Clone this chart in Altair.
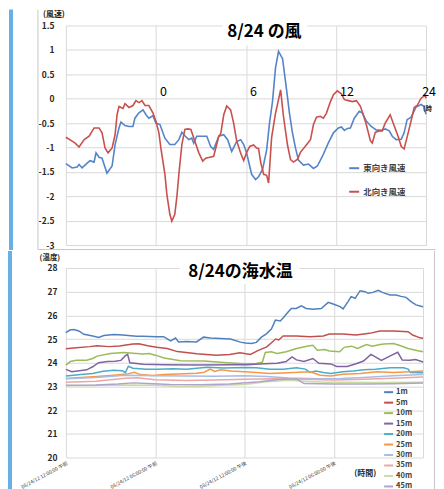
import altair as alt
import pandas as pd

FONT = "Noto Sans CJK JP"

# ---------------- wind (top panel) ----------------
WIND_TITLE = "8/24 の風"
WIND_SERIES = ["東向き風速", "北向き風速"]
WIND_COLORS = ["#5585C8", "#C9504D"]
WIND_TICKS = [-3, -2.5, -2, -1.5, -1, -0.5, 0, 0.5, 1, 1.5]
HOUR_MARKS = [0, 6, 12, 18]
HOUR_LABELS = ["0", "6", "12", "24"]

EAST_T = [-6.0, -5.58, -5.25, -5.12, -4.92, -4.58, -4.39, -4.12, -3.99, -3.79,
          -3.59, -3.26, -2.92, -2.72, -2.46, -2.33, -2.06, -1.79, -1.53, -1.40,
          -1.13, -0.86, -0.66, -0.47, -0.20, 0.0, 0.27, 0.60, 0.93, 1.26,
          1.53, 1.73, 1.93, 2.19, 2.39, 2.52, 2.72, 3.06, 3.39, 3.65,
          3.85, 4.19, 4.52, 4.78, 5.05, 5.38, 5.65, 5.85, 6.05, 6.38,
          6.64, 6.84, 7.11, 7.38, 7.57, 7.77, 7.97, 8.17, 8.44, 8.70,
          8.90, 9.10, 9.30, 9.50, 9.83, 10.17, 10.50, 10.76, 11.10, 11.50,
          11.83, 12.16, 12.36, 12.56, 12.76, 12.96, 13.22, 13.55, 13.75, 14.02,
          14.35, 14.68, 15.02, 15.28, 15.55, 15.75, 16.01, 16.35, 16.54, 16.74,
          17.01, 17.34, 17.67, 17.87, 18.0]
EAST_V = [-1.33, -1.42, -1.40, -1.35, -1.42, -1.32, -1.27, -1.30, -1.11, -1.20,
          -1.22, -1.53, -1.38, -0.94, -0.60, -0.48, -0.55, -0.57, -0.57, -0.40,
          -0.29, -0.23, -0.33, -0.40, -0.35, -0.50, -0.53, -0.81, -0.94, -0.94,
          -0.84, -0.69, -0.76, -0.84, -0.81, -0.91, -0.77, -0.77, -0.77, -0.98,
          -1.04, -0.77, -0.74, -0.84, -1.08, -0.88, -0.84, -0.94, -1.12, -1.55,
          -1.66, -1.60, -1.45, -1.05, -0.50, -0.06, 0.63, 0.97, 0.82, 0.20,
          -0.30, -0.70, -1.01, -1.26, -1.36, -1.34, -1.43, -1.38, -1.18, -0.90,
          -0.70, -0.60, -0.58, -0.65, -0.61, -0.60, -0.40, -0.26, -0.29, -0.46,
          -0.57, -0.64, -0.65, -0.62, -0.66, -0.77, -0.84, -0.83, -0.70, -0.43,
          -0.38, -0.17, -0.12, -0.16, -0.32]

NORTH_T = [-6.0, -5.58, -5.38, -5.12, -4.78, -4.45, -4.12, -3.79, -3.59, -3.39,
           -3.19, -2.92, -2.72, -2.59, -2.46, -2.19, -2.06, -1.79, -1.53, -1.33,
           -1.13, -0.93, -0.73, -0.47, -0.20, 0.0, 0.20, 0.33, 0.60, 0.73,
           0.93, 1.06, 1.26, 1.40, 1.53, 1.73, 1.93, 2.13, 2.33, 2.59,
           2.86, 3.12, 3.32, 3.59, 3.85, 4.19, 4.32, 4.52, 4.72, 4.98,
           5.18, 5.38, 5.65, 5.85, 6.05, 6.25, 6.51, 6.71, 6.84, 6.98,
           7.18, 7.38, 7.51, 7.71, 7.97, 8.17, 8.31, 8.50, 8.77, 8.97,
           9.17, 9.44, 9.63, 9.97, 10.30, 10.50, 10.70, 10.96, 11.16, 11.36,
           11.63, 11.83, 12.09, 12.36, 12.56, 12.82, 13.09, 13.36, 13.62, 13.82,
           14.02, 14.29, 14.42, 14.62, 14.88, 15.08, 15.28, 15.61, 15.81, 16.15,
           16.35, 16.54, 16.81, 17.01, 17.21, 17.41, 17.67, 17.94, 18.0]
NORTH_V = [-0.79, -0.87, -0.91, -0.99, -0.84, -0.77, -0.60, -0.60, -0.70, -1.01,
           -1.11, -1.01, -0.74, -0.33, -0.16, -0.20, -0.10, -0.18, -0.14, -0.04,
           -0.08, -0.04, -0.14, -0.14, -0.29, -0.46, -0.70, -1.01, -1.55, -1.96,
           -2.37, -2.51, -2.37, -2.00, -1.55, -0.94, -0.63, -0.62, -0.63, -0.87,
           -1.11, -1.28, -1.22, -1.20, -1.18, -0.77, -0.72, -0.33, -0.15, -0.23,
           -0.50, -0.86, -1.12, -1.27, -1.10, -0.98, -0.95, -1.01, -1.02, -1.30,
           -1.55, -1.57, -1.73, -0.80, -0.30, -0.02, 0.18, -0.36, -0.95, -1.25,
           -1.30, -1.24, -1.10, -0.97, -0.84, -0.53, -0.38, -0.36, -0.40, -0.30,
           -0.06, 0.08, 0.16, 0.10, -0.02, -0.04, -0.06, -0.04, -0.15, -0.33,
           -0.53, -0.86, -0.91, -0.69, -0.66, -0.66, -0.50, -0.33, -0.50, -0.78,
           -0.98, -1.03, -0.70, -0.45, -0.18, -0.14, 0.01, 0.07, 0.01]

# ---------------- sea temperature (bottom panel) ----------------
TEMP_TITLE = "8/24の海水温"
TEMP_TICKS = [20, 21, 22, 23, 24, 25, 26, 27, 28]
TIME_TICKS = [0, 6, 12, 18, 24]
TIME_LABELS = ["08/24/12 12:00:00 午前", "08/24/12 06:00:00 午前",
               "08/24/12 12:00:00 午後", "08/24/12 06:00:00 午後", ""]
DEPTHS = ["1m", "5m", "10m", "15m", "20m", "25m", "30m", "35m", "40m", "45m"]
DEPTH_COLORS = ["#4F81BD", "#C0504D", "#9BBB59", "#8064A2", "#4BACC6",
                "#F79646", "#A7BDE6", "#E9A8A6", "#C9DCA6", "#B0A2CC"]

T1 = [0, 0.27, 0.54, 0.87, 1.21, 1.47, 1.88, 2.21, 2.55, 3.22, 3.82, 4.36, 4.76, 5.16, 6.10,
      6.57, 7.04, 7.37, 7.57, 8.11, 8.78, 9.25, 9.72, 10.39, 11.06, 11.73, 12.06, 12.47, 12.80,
      13.14, 13.47, 13.81, 14.08, 14.41, 14.61, 14.95, 15.15, 15.48, 15.82, 16.15, 16.62, 17.16,
      17.63, 17.96, 18.43, 18.63, 18.97, 19.17, 19.44, 19.77, 20.11, 20.31, 20.64, 20.98, 21.31,
      21.78, 22.18, 22.52, 22.86, 23.19, 23.53, 23.86, 24.0]
V1 = [25.27, 25.38, 25.40, 25.34, 25.20, 25.17, 25.12, 25.07, 25.15, 25.19, 25.17, 25.14, 25.12,
      25.12, 25.10, 25.10, 24.92, 25.04, 24.88, 24.90, 24.88, 25.08, 25.04, 25.02, 25.00, 24.87,
      24.83, 24.81, 24.86, 25.08, 25.22, 25.42, 25.80, 25.76, 25.90, 26.15, 26.29, 26.29, 26.40,
      26.29, 26.26, 26.29, 26.55, 26.48, 26.37, 26.27, 26.59, 26.79, 26.72, 27.04, 27.00, 26.93,
      26.97, 27.06, 26.96, 26.86, 26.86, 26.80, 26.76, 26.58, 26.44, 26.38, 26.36]
T5 = [0, 0.7, 1.6, 2.1, 2.9, 3.6, 4.5, 4.9, 5.5, 6.1, 6.8, 7.5, 8.8, 10.1, 11.0, 11.7, 12.4, 12.9,
      13.5, 14.1, 14.3, 14.6, 15.5, 16.4, 17.3, 17.7, 18.6, 19.5, 20.4, 21.1, 22.0, 23.0, 23.3,
      23.8, 24.0]
V5 = [24.59, 24.63, 24.68, 24.72, 24.68, 24.71, 24.79, 24.80, 24.72, 24.65, 24.60, 24.47, 24.38,
      24.32, 24.35, 24.42, 24.35, 24.51, 24.67, 25.00, 24.96, 25.13, 25.13, 25.10, 25.13, 25.21,
      25.21, 25.17, 25.24, 25.34, 25.34, 25.31, 25.17, 25.05, 25.03]
T10 = [0, 0.3, 0.7, 1.4, 1.8, 2.1, 3.0, 3.9, 4.5, 5.2, 5.6, 6.0, 6.6, 7.7, 9.3, 10.6, 11.9, 12.8,
       13.2, 13.4, 13.8, 14.2, 14.8, 15.5, 16.2, 16.6, 16.9, 17.4, 17.7, 18.4, 18.7, 19.2, 19.6,
       20.2, 20.6, 21.1, 21.4, 22.0, 22.4, 23.0, 23.5, 24.0]
V10 = [23.90, 24.05, 24.10, 24.11, 24.18, 24.28, 24.39, 24.43, 24.40, 24.37, 24.39, 24.32, 24.20,
       24.08, 24.07, 24.01, 23.96, 23.97, 24.02, 24.43, 24.46, 24.39, 24.46, 24.60, 24.70, 24.74,
       24.53, 24.56, 24.50, 24.46, 24.65, 24.70, 24.60, 24.77, 24.70, 24.77, 24.79, 24.81, 24.74,
       24.60, 24.53, 24.46]
T15 = [0, 0.4, 0.9, 1.4, 1.8, 2.2, 2.8, 3.3, 3.7, 4.0, 4.15, 4.3, 5.2, 6.6, 8.8, 11.1, 12.2, 13.0,
       14.2, 14.8, 15.2, 15.5, 16.0, 16.6, 17.0, 17.8, 18.2, 18.9, 19.5, 20.0, 20.5, 20.8, 21.2,
       21.9, 22.3, 22.6, 23.1, 23.5, 24.0]
V15 = [23.72, 23.62, 23.66, 23.70, 23.83, 24.00, 24.05, 24.06, 24.10, 24.30, 24.35, 24.00, 23.94,
       23.92, 23.90, 23.92, 23.92, 23.95, 23.98, 24.05, 24.25, 24.12, 24.05, 24.18, 23.98, 23.95,
       23.84, 23.84, 23.96, 24.07, 24.35, 24.25, 24.10, 24.32, 24.44, 24.12, 24.11, 24.14, 24.03]
T20 = [0, 1.0, 1.8, 2.5, 3.2, 3.8, 4.0, 4.2, 4.5, 5.4, 6.2, 7.2, 8.1, 8.8, 9.5, 10.6, 12.0, 12.8,
       13.7, 14.6, 15.5, 16.1, 16.4, 16.8, 17.3, 17.8, 18.6, 19.3, 20.0, 20.8, 21.8, 22.7, 23.0,
       23.15, 24.0]
V20 = [23.44, 23.50, 23.55, 23.64, 23.68, 23.66, 23.58, 23.85, 23.77, 23.73, 23.73, 23.75, 23.73,
       23.77, 23.81, 23.78, 23.80, 23.79, 23.73, 23.73, 23.79, 23.73, 23.59, 23.65, 23.59, 23.55,
       23.62, 23.65, 23.70, 23.73, 23.79, 23.79, 23.73, 23.59, 23.58]
T25 = [0, 1.0, 2.1, 3.2, 4.1, 4.6, 5.0, 5.8, 6.6, 8.8, 9.3, 9.7, 10.0, 10.4, 11.1, 12.0, 12.8,
       13.7, 15.3, 16.4, 17.1, 17.8, 18.6, 19.8, 20.9, 22.0, 23.1, 24.0]
V25 = [23.33, 23.38, 23.42, 23.47, 23.52, 23.60, 23.50, 23.46, 23.50, 23.56, 23.60, 23.73, 23.63,
       23.70, 23.65, 23.62, 23.59, 23.55, 23.59, 23.62, 23.47, 23.44, 23.51, 23.55, 23.62, 23.59,
       23.62, 23.65]
T30 = [0, 2.0, 4.0, 6.0, 8.0, 10.0, 12.0, 13.5, 15.0, 17.0, 18.5, 20.0, 22.0, 24.0]
V30 = [23.32, 23.38, 23.47, 23.45, 23.44, 23.43, 23.45, 23.42, 23.36, 23.32, 23.33, 23.38, 23.45, 23.50]
T35 = [0, 2.0, 4.0, 4.8, 6.0, 8.0, 10.0, 12.0, 14.0, 16.0, 18.0, 20.0, 22.0, 24.0]
V35 = [23.18, 23.22, 23.35, 23.37, 23.28, 23.25, 23.27, 23.30, 23.32, 23.30, 23.27, 23.30, 23.35, 23.40]
T40 = [0, 2.0, 4.0, 6.0, 7.5, 9.0, 10.5, 12.0, 13.5, 15.0, 16.0, 17.5, 19.0, 21.0, 24.0]
V40 = [23.03, 23.04, 23.06, 23.05, 23.00, 23.00, 23.05, 23.08, 23.20, 23.26, 23.22, 23.18, 23.18,
       23.17, 23.18]
T45 = [0, 2.0, 3.5, 4.5, 5.5, 7.0, 9.0, 11.0, 13.0, 14.5, 15.5, 16.0, 18.0, 20.0, 22.0, 24.0]
V45 = [23.05, 23.06, 23.10, 23.15, 23.12, 23.08, 23.07, 23.10, 23.20, 23.30, 23.32, 23.12, 23.10,
       23.10, 23.11, 23.14]

# ---------------- tables ----------------
wind = pd.DataFrame({
    "t": EAST_T + NORTH_T,
    "v": EAST_V + NORTH_V,
    "s": [WIND_SERIES[0]] * len(EAST_T) + [WIND_SERIES[1]] * len(NORTH_T),
})

rows = []
for name, ts, vs in zip(DEPTHS, [T1, T5, T10, T15, T20, T25, T30, T35, T40, T45],
                        [V1, V5, V10, V15, V20, V25, V30, V35, V40, V45]):
    for t, v in zip(ts, vs):
        rows.append({"t": t, "v": v, "d": name})
temp = pd.DataFrame(rows)

one = alt.Chart(pd.DataFrame({"k": [0]}))
BLUE_STRIP = "#66B0E6"
BORDER = "#C8C8C8"

# ---------------- top panel ----------------
top_strip = one.mark_rect(color=BLUE_STRIP).encode(
    x=alt.value(-57), x2=alt.value(-53), y=alt.value(-16), y2=alt.value(225))
top_vline = one.mark_rule(color=BORDER, strokeWidth=1).encode(
    x=alt.value(-28), y=alt.value(-16), y2=alt.value(224.5))
top_hline = one.mark_rule(color=BORDER, strokeWidth=1).encode(
    x=alt.value(-28), x2=alt.value(370.5), y=alt.value(224.5))

wind_lines = alt.Chart(wind).mark_line(strokeWidth=1.6).encode(
    x=alt.X("t:Q", scale=alt.Scale(domain=[-6, 18], nice=False, zero=False),
            axis=alt.Axis(values=[-6, 0, 6, 12, 18], labels=False, ticks=False,
                          domain=False, grid=True, gridColor="#D9D9D9", title=None)),
    y=alt.Y("v:Q", scale=alt.Scale(domain=[-3, 1.5], nice=False, zero=False),
            axis=alt.Axis(values=WIND_TICKS, labelExpr="datum.value + ''", ticks=False,
                          tickSize=0, domain=False, labelPadding=12, title=None,
                          gridColor="#D9D9D9", labelFontSize=8.5, labelFontWeight="bold",
                          labelColor="#262626", labelFont=FONT)),
    color=alt.Color("s:N", scale=alt.Scale(domain=WIND_SERIES, range=WIND_COLORS),
                    legend=alt.Legend(orient="none", legendX=283, legendY=137, title=None,
                                      symbolType="stroke", symbolSize=100,
                                      symbolStrokeWidth=2, labelFontSize=8.5,
                                      labelFontWeight="bold", labelColor="#404040",
                                      labelFont=FONT, rowPadding=12.6, labelOffset=3)),
)

top_title_box = one.mark_rect(color="white").encode(
    x=alt.value(157), x2=alt.value(242), y=alt.value(-6), y2=alt.value(20))
top_title = one.mark_text(text=WIND_TITLE, fontSize=17, fontWeight="bold", font=FONT,
                          color="#000000").encode(x=alt.value(199), y=alt.value(7))
hour_first = alt.Chart(pd.DataFrame({"t": HOUR_MARKS[:-1], "label": HOUR_LABELS[:-1]})).mark_text(
    align="left", dx=4, fontSize=12.5, font=FONT, color="#000000").encode(
    x="t:Q", y=alt.value(67), text="label:N")
hour_last = alt.Chart(pd.DataFrame({"t": HOUR_MARKS[-1:], "label": HOUR_LABELS[-1:]})).mark_text(
    align="right", fontSize=12.5, font=FONT, color="#000000").encode(
    x=alt.value(371), y=alt.value(67), text="label:N")
top_jikan = one.mark_text(text="(時間)", align="left", fontSize=6.5, fontWeight="bold",
                          font=FONT, color="#262626", limit=14, ellipsis=" ").encode(
    x=alt.value(358), y=alt.value(84))
top_unit = one.mark_text(text="(風速)", fontSize=8, fontWeight="bold", font=FONT,
                         color="#262626").encode(x=alt.value(-12), y=alt.value(-11))

top = alt.layer(top_strip, top_vline, top_hline, wind_lines, top_title_box, top_title,
                hour_first, hour_last, top_jikan, top_unit).properties(width=361, height=220)

# ---------------- bottom panel ----------------
label_js = "[" + ",".join("'" + s + "'" for s in TIME_LABELS) + "]"

bot_strip = one.mark_rect(color=BLUE_STRIP).encode(
    x=alt.value(-58), x2=alt.value(-54), y=alt.value(-17), y2=alt.value(223))
bot_vline = one.mark_rule(color=BORDER, strokeWidth=1).encode(
    x=alt.value(369.5), y=alt.value(-17), y2=alt.value(223))

temp_lines = alt.Chart(temp).mark_line(strokeWidth=1.5).encode(
    x=alt.X("t:Q", scale=alt.Scale(domain=[0, 24], nice=False, zero=False),
            axis=alt.Axis(values=TIME_TICKS, labelExpr=label_js + "[datum.value / 6]",
                          labelAngle=-28, labelAlign="right", labelBaseline="top",
                          labelFontSize=5, labelPadding=3, labelFlush=False,
                          labelOverlap=False, labelColor="#404040", labelFont=FONT,
                          ticks=False, domain=False, grid=True, gridColor="#D9D9D9",
                          title=None)),
    y=alt.Y("v:Q", scale=alt.Scale(domain=[20, 28], nice=False, zero=False),
            axis=alt.Axis(values=TEMP_TICKS, ticks=False, tickSize=0, domain=False,
                          labelPadding=9, labelFontSize=8.5, labelFontWeight="bold",
                          labelColor="#262626", labelFont=FONT, gridColor="#D9D9D9",
                          title=None)),
    color=alt.Color("d:N", scale=alt.Scale(domain=DEPTHS, range=DEPTH_COLORS),
                    legend=alt.Legend(orient="none", legendX=318, legendY=119, title=None,
                                      symbolType="stroke", symbolSize=81,
                                      symbolStrokeWidth=2, labelFontSize=7.5,
                                      labelFontWeight="bold", labelColor="#404040",
                                      labelFont=FONT, rowPadding=0.5, labelOffset=2)),
)

bot_title_box = one.mark_rect(color="white").encode(
    x=alt.value(114), x2=alt.value(234), y=alt.value(-8), y2=alt.value(16))
bot_title = one.mark_text(text=TEMP_TITLE, fontSize=17, fontWeight="bold", font=FONT,
                          color="#000000").encode(x=alt.value(175), y=alt.value(4))
bot_jikan = one.mark_text(text="(時間)", fontSize=8, fontWeight="bold", font=FONT,
                          color="#262626").encode(x=alt.value(300), y=alt.value(207))
bot_unit = one.mark_text(text="(温度)", fontSize=7.5, fontWeight="bold", font=FONT,
                         color="#262626").encode(x=alt.value(-16), y=alt.value(-10))

bottom = alt.layer(bot_strip, bot_vline, temp_lines, bot_title_box, bot_title,
                   bot_jikan, bot_unit).properties(width=358, height=190)

chart = alt.vconcat(top, bottom, spacing=0).properties(padding=0).configure_view(
    strokeWidth=0).resolve_scale(color="independent")

chart.save("out.html", embed_options={"renderer": "svg", "actions": False})
